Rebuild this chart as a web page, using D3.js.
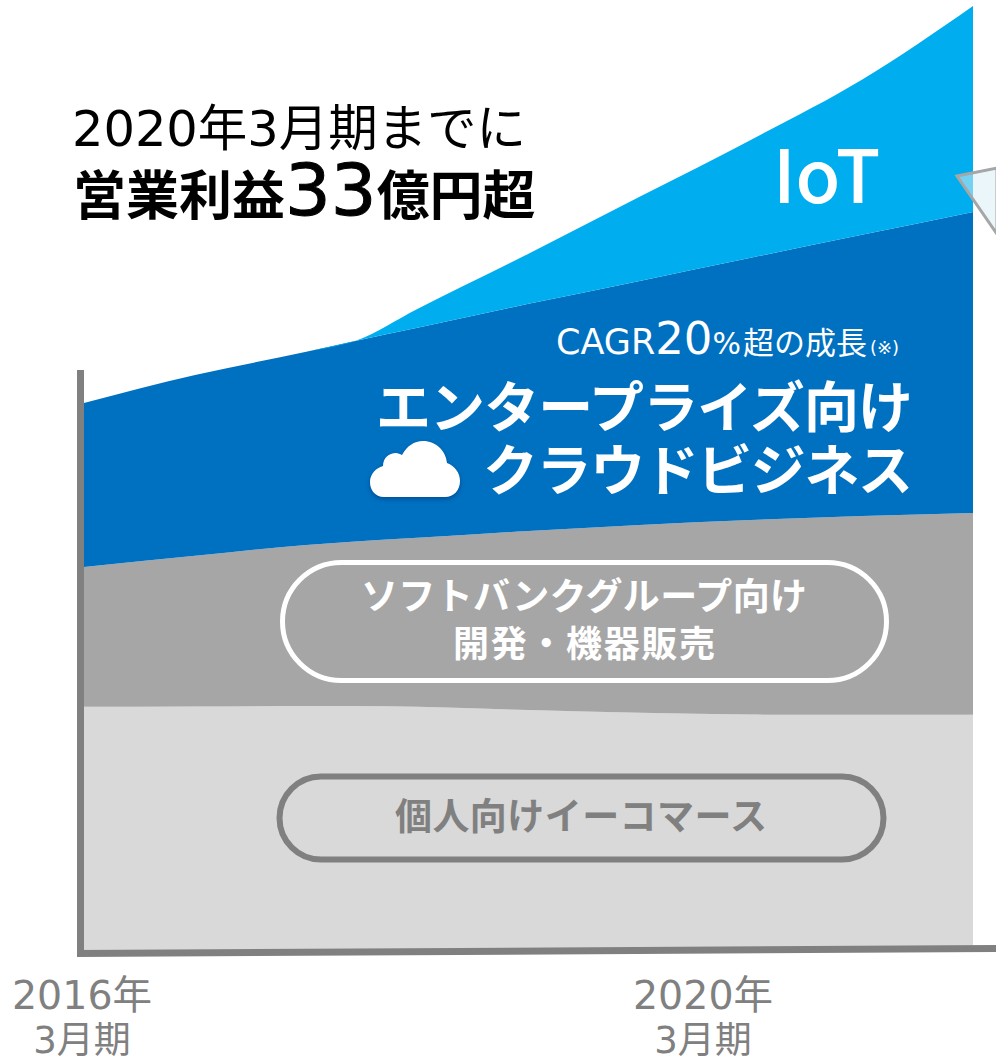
<!DOCTYPE html>
<html><head><meta charset="utf-8">
<script src="https://cdnjs.cloudflare.com/ajax/libs/d3/7.8.5/d3.min.js"></script>
<style>html,body{margin:0;padding:0;background:#fff;overflow:hidden}svg{display:block}text{font-family:"Noto Sans CJK JP","Noto Sans",sans-serif}.lat{font-family:"DejaVu Sans","Noto Sans CJK JP",sans-serif}</style>
</head><body><div id="c"></div>
<script>
const periods=[2016,2016.5,2017,2017.22,2017.5,2018,2018.5,2019,2019.5,2020];
const seriesNames=["ecommerce","softbank","enterprise","iot"];
const ecommerce=[8.50,8.51,8.53,8.53,8.50,8.39,8.29,8.23,8.22,8.22];
const softbank=[4.89,5.27,5.63,5.75,5.91,6.26,6.57,6.80,6.95,7.06];
const enterprise=[5.73,6.32,6.75,7.01,7.34,7.94,8.53,9.17,9.83,10.52];
const iot=[0,0,0,0,0.66,1.75,2.94,4.12,5.42,7.20];
const seriesColors=["#d9d9d9","#a6a6a6","#0070c0","#00aeef"];
const tickLabels=[["2016年","3月期"],["2020年","3月期"]];

const W=996,H=1057;
const svg=d3.select("#c").append("svg").attr("width",W).attr("height",H);
const x=d3.scaleLinear().domain([2016,2020]).range([84,973]);
const y=d3.scaleLinear().domain([0,33]).range([950,6]);
const rows=periods.map((p,i)=>({p,ecommerce:ecommerce[i],softbank:softbank[i],enterprise:enterprise[i],iot:iot[i]}));
const stack=d3.stack().keys(seriesNames)(rows);
const area=d3.area().x(d=>x(d.data.p)).y0(d=>y(d[0])).y1(d=>y(d[1])).curve(d3.curveMonotoneX);
svg.selectAll("path.band").data(stack).join("path").attr("class","band")
  .attr("d",area).attr("fill",(d,i)=>seriesColors[i]);

// axes
svg.append("path").attr("d","M80.5 370V954").attr("stroke","#808080").attr("stroke-width",7).attr("fill","none");
svg.append("path").attr("d","M77 953.5L996 948.5").attr("stroke","#808080").attr("stroke-width",7).attr("fill","none");

// callout fragment
svg.append("path").attr("d","M957 176L997 168V234Z").attr("fill","rgb(217,238,244)").attr("fill-opacity",.54).attr("stroke","#a6a6a6").attr("stroke-width",3);

function t(s,px,py,size,fill,weight,anchor,len){
  const e=svg.append("text").attr("x",px).attr("y",py).attr("font-size",size).attr("fill",fill)
    .attr("font-weight",weight||400).attr("text-anchor",anchor||"start").text(s);
  if(len)e.attr("textLength",len).attr("lengthAdjust","spacing");
  return e;
}
// title
t("2020年3月期までに",72,146,49.5,"#000",400,"start",454).attr("class","lat");
const b=svg.append("text").attr("x",73).attr("y",215).attr("font-weight",700).attr("fill","#000");
b.append("tspan").attr("font-size",53).text("営業利益");
b.append("tspan").attr("font-size",72).attr("class","lat").attr("font-weight",400).attr("stroke","#000").attr("stroke-width",1).text("33");
b.append("tspan").attr("font-size",53).text("億円超");

t("IoT",773,203,73,"#fff",500);

// CAGR line
const c=svg.append("text").attr("x",556).attr("y",354).attr("fill","#fff").attr("class","lat");
c.append("tspan").attr("font-size",35).text("CAGR");
c.append("tspan").attr("font-size",45).text("20");
c.append("tspan").attr("font-size",30).text("%");
c.append("tspan").attr("font-size",31).attr("dx",2).text("超の成長");
c.append("tspan").attr("font-size",18).attr("dx",3).text("(※)");

t("エンタープライズ向け",376,427,55,"#fff",700,"start",537);
t("クラウドビジネス",483,490,55,"#fff",700,"start",430);

// cloud
svg.append("path").attr("transform","translate(370,441)")
  .attr("d","M14 56C5 56 0 49 0 41C0 33 6 27 13 25C13 17 19 12 26 12C28 12 30 13 32 14C37 5 44 0 53 0C66 0 76 10 77 22C85 25 90 32 90 40C90 49 84 56 75 56Z")
  .attr("fill","#fff").style("filter","drop-shadow(0 2px 2px rgba(0,0,50,.3))");

// pills
svg.append("rect").attr("x",282.5).attr("y",562.5).attr("width",604).attr("height",118).attr("rx",59)
  .attr("fill","none").attr("stroke","#fff").attr("stroke-width",5);
t("ソフトバンクグループ向け",584,610,37,"#fff",700,"middle",446);
t("開発・機器販売",584,657,36,"#fff",700,"middle",262);
svg.append("rect").attr("x",279.5).attr("y",776.5).attr("width",604).attr("height",83).attr("rx",41.5)
  .attr("fill","none").attr("stroke","#808080").attr("stroke-width",6);
t("個人向けイーコマース",581,830,37,"#808080",700,"middle",372);

// tick labels
const tickX=d3.scalePoint().domain(tickLabels.map(d=>d[0])).range([82,703]);
tickLabels.forEach(l=>{
  t(l[0],tickX(l[0]),1009,39.5,"#808080",400,"middle").attr("class","lat");
  t(l[1],tickX(l[0]),1053,37,"#808080",400,"middle").attr("class","lat");
});
</script></body></html>
